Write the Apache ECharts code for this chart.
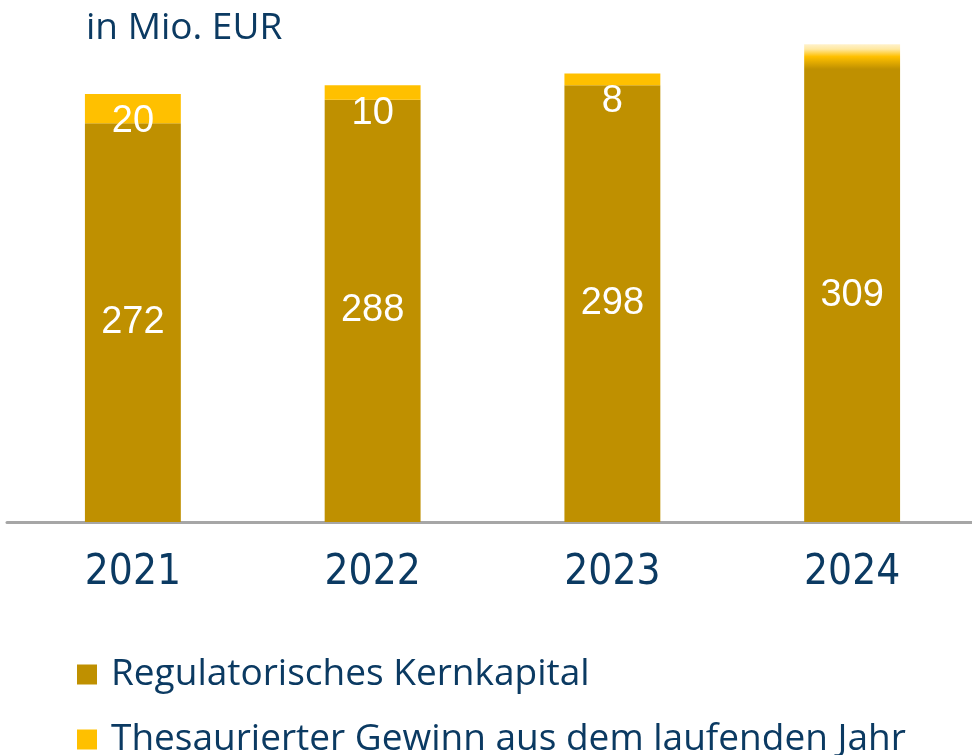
<!DOCTYPE html>
<html>
<head>
<meta charset="utf-8">
<script src="https://cdn.jsdelivr.net/npm/echarts@6/dist/echarts.min.js"></script>
<style>
  html, body { margin: 0; padding: 0; background: #fff; }
  #main { width: 972px; height: 755px; }
</style>
</head>
<body>
<div id="main"></div>
<script>
// Werte in Mio. EUR
var years = ['2021', '2022', '2023', '2024']
var kernkapital = [272, 288, 298, 309]
var gewinn = [20, 10, 8, 17]
var gewinnLabels = ['20', '10', '8', '']
var seriesNames = ['Regulatorisches Kernkapital', 'Thesaurierter Gewinn aus dem laufenden Jahr']

var navy = '#0B3A62'
var chart = echarts.init(document.getElementById('main'))

function legendAt(top, name) {
  return {
    left: 72,
    top: top,
    itemWidth: 20,
    itemHeight: 20,
    icon: 'rect',
    textStyle: {
      fontFamily: 'Open Sans',
      fontSize: 37,
      color: navy,
      padding: [0, 0, 0, 9]
    },
    data: [name]
  }
}

chart.setOption({
  animation: false,
  title: {
    text: 'in Mio. EUR',
    left: 81,
    top: 5,
    textStyle: {
      fontFamily: 'Open Sans',
      fontWeight: 'normal',
      fontSize: 37,
      color: navy
    }
  },
  legend: [legendAt(651, seriesNames[0]), legendAt(716, seriesNames[1])],
  grid: [
    { left: 13, right: -6, top: 9, bottom: 233 },
    { left: 7, right: 0, top: 9, bottom: 233 }
  ],
  xAxis: [{
    type: 'category',
    data: years,
    gridIndex: 0,
    axisLine: { show: false },
    axisTick: { show: false },
    axisLabel: {
      margin: 30,
      fontFamily: "'Liberation Sans Narrow', 'DejaVu Sans Condensed', 'Liberation Sans', sans-serif",
      fontSize: 42,
      color: navy
    }
  }, {
    type: 'value',
    gridIndex: 1,
    min: 0,
    max: 1,
    axisLine: { show: true, lineStyle: { color: '#A6A6A6', width: 3 } },
    axisTick: { show: false },
    axisLabel: { show: false },
    splitLine: { show: false }
  }],
  yAxis: [{
    type: 'value',
    gridIndex: 0,
    min: 0,
    max: 350,
    show: false
  }, {
    type: 'value',
    gridIndex: 1,
    min: 0,
    max: 1,
    show: false
  }],
  series: [{
    name: seriesNames[0],
    type: 'bar',
    stack: 'kapital',
    barWidth: '40%',
    itemStyle: { color: '#BF9000' },
    label: {
      show: true,
      position: 'inside',
      color: '#fff',
      fontFamily: 'Liberation Sans',
      fontSize: 38
    },
    data: kernkapital
  }, {
    name: seriesNames[1],
    type: 'bar',
    stack: 'kapital',
    barWidth: '40%',
    itemStyle: { color: '#FFC000' },
    label: {
      show: true,
      position: 'insideTop',
      distance: 9,
      color: '#fff',
      fontFamily: 'Liberation Sans',
      fontSize: 38,
      formatter: function (p) { return gewinnLabels[p.dataIndex] }
    },
    data: gewinn.map(function (v, i) {
      if (i < 3) return v
      return {
        value: v,
        itemStyle: {
          color: new echarts.graphic.LinearGradient(0, 0, 0, 1, [
            { offset: 0, color: '#FFF2CC' },
            { offset: 0.2, color: '#FFE8A0' },
            { offset: 0.5, color: '#FFC000' },
            { offset: 1, color: '#BF9000' }
          ])
        }
      }
    })
  }]
})
</script>
</body>
</html>
